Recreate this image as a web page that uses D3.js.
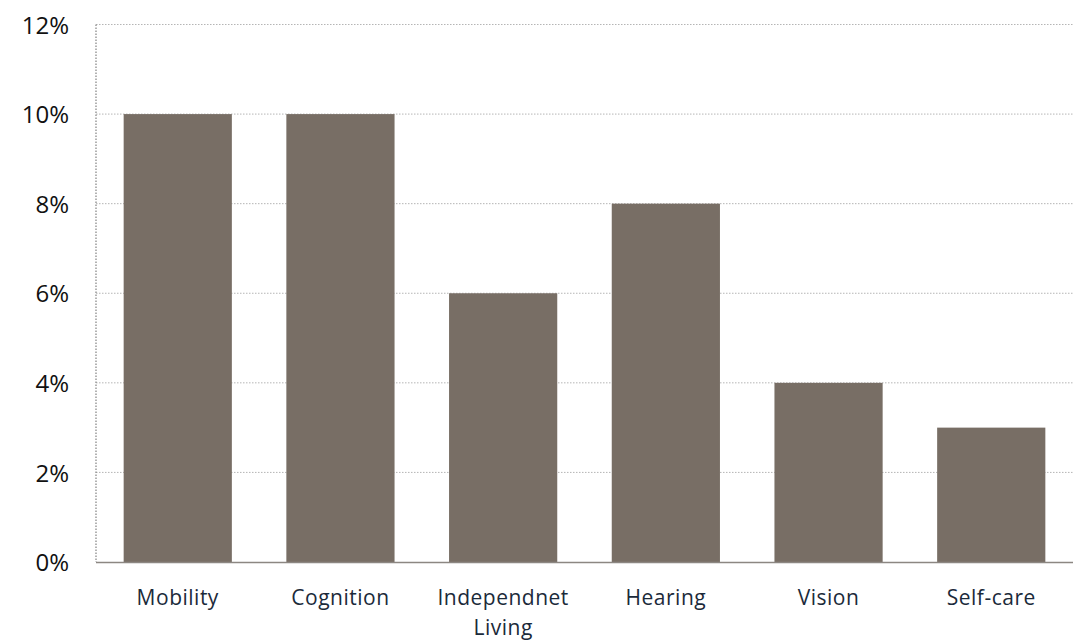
<!DOCTYPE html>
<html><head><meta charset="utf-8">
<script src="https://cdn.jsdelivr.net/npm/d3@7/dist/d3.min.js"></script>
<style>body{margin:0;background:#fff}svg{display:block}</style>
</head><body>
<script>
const categories = ["Mobility","Cognition","Independnet Living","Hearing","Vision","Self-care"];
const values = [10,10,6,8,4,3];
const yTicks = [0,2,4,6,8,10,12];

const W=1079,H=642;
const m={l:96,r:6,t:24.5,b:80};
const svg=d3.select("body").append("svg").attr("width",W).attr("height",H);
const x=d3.scaleBand().domain(categories).range([m.l,W-m.r]).paddingInner(0.335).paddingOuter(0.17);
const y=d3.scaleLinear().domain([0,12]).range([562,m.t]);

// gridlines
svg.append("g").selectAll("line").data(yTicks.filter(d=>d>0)).join("line")
 .attr("x1",m.l).attr("x2",W-m.r).attr("y1",d=>y(d)).attr("y2",d=>y(d))
 .attr("stroke","#b5b5b5").attr("stroke-width",1).attr("stroke-dasharray","1.5,1.5");
// left axis dotted
svg.append("line").attr("x1",m.l).attr("x2",m.l).attr("y1",y(12)).attr("y2",y(0))
 .attr("stroke","#8a8a8a").attr("stroke-width",1.3).attr("stroke-dasharray","1.5,1.5");

// bars
svg.append("g").selectAll("rect").data(categories).join("rect")
 .attr("x",d=>x(d)).attr("width",x.bandwidth())
 .attr("y",(d,i)=>y(values[i])).attr("height",(d,i)=>y(0)-y(values[i]))
 .attr("fill","#786e65");

// baseline
svg.append("line").attr("x1",m.l).attr("x2",W-m.r).attr("y1",y(0)+0.5).attr("y2",y(0)+0.5)
 .attr("stroke","#8c8782").attr("stroke-width",1.5);

// y labels
const yAxis=d3.axisLeft(y).tickValues(yTicks).tickFormat(d=>d+"%").tickSize(0).tickPadding(0);
const ya=svg.append("g").attr("transform","translate(69,0)").call(yAxis);
ya.select(".domain").remove();
ya.selectAll("text").attr("font-family","'Open Sans',sans-serif").attr("font-size",24).attr("fill","#111").attr("dy","0.36em");

// x labels
const xa=svg.append("g").attr("transform",`translate(0,${y(0)})`).call(d3.axisBottom(x).tickSize(0).tickPadding(0));
xa.select(".domain").remove();
xa.selectAll("text").each(function(d){
  const t=d3.select(this).text(null).attr("font-family","'Open Sans',sans-serif").attr("font-size",21)
   .attr("fill","#1b2a3a").attr("letter-spacing","0.5px").attr("y",0).attr("dy",null);
  const words = d==="Independnet Living" ? ["Independnet","Living"] : [d];
  words.forEach((w,i)=>t.append("tspan").attr("x",0).attr("y",43+i*30).text(w));
});
</script>
</body></html>
